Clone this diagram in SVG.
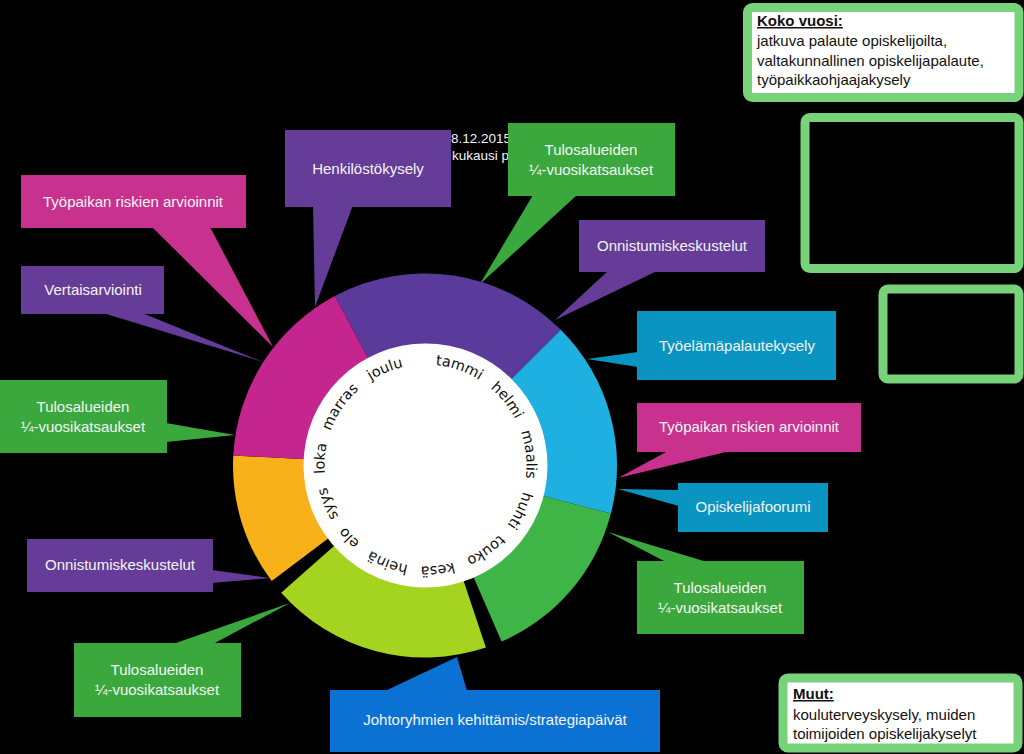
<svg xmlns="http://www.w3.org/2000/svg" xmlns:xlink="http://www.w3.org/1999/xlink" width="1024" height="754" viewBox="0 0 1024 754">
<defs>
<style>
.bg{fill:#000}
.lbl{font-family:"Liberation Sans",Arial,sans-serif;font-size:15px;fill:#f4f4f4;text-anchor:middle}
.note{font-family:"Liberation Sans",Arial,sans-serif;font-size:15px;fill:#111}
.hd{font-weight:bold;text-decoration:underline}
.mon{font-family:"DejaVu Sans",Verdana,sans-serif;font-size:14.5px;fill:#111;text-anchor:middle}
.pu{fill:#653c97}
.mg{fill:#c8318e}
.gr{fill:#3aa83c}
.tl{fill:#0a94c2}
.bl{fill:#0b72d4}
.frame{stroke:#78d27a;stroke-width:9}
</style>
<path id="mp" d="M425.5,364.5 A101,101 0 1 1 425.5,566.5 A101,101 0 1 1 425.5,364.5"/>
</defs>
<rect class="bg" x="0" y="0" width="1024" height="754"/>

<g id="background-text" font-family="Liberation Sans, Arial, sans-serif" font-size="13.5" fill="#f4f4f4">
<text x="451" y="143">8.12.2015</text>
<text x="452" y="160">kukausi p</text>
</g>

<g id="connectors">
<polygon class="pu" points="313,205 353,205 315,307"/>
<polygon class="gr" points="533,195 577,195 480,284"/>
<polygon class="pu" points="608,271 657,271 555,320"/>
<polygon class="tl" points="638,352 638,367 587,359"/>
<polygon class="mg" points="668,451 730,451 618,478"/>
<polygon class="tl" points="679,490 679,506 618,489"/>
<polygon class="gr" points="666,562 707,562 608,532"/>
<polygon class="bl" points="385,691 467,691 457,657"/>
<polygon class="gr" points="173,644 213,644 290,603"/>
<polygon class="pu" points="212,570 212,583 270,578"/>
<polygon class="gr" points="166,423 166,442 235,435"/>
<polygon class="pu" points="103,313 142,313 263,362"/>
<polygon class="mg" points="152,227 210,227 273,347"/>
</g>

<g id="ring">
<path fill="#5a3b9c" d="M425,465.5 L334.9,296.0 A192,192 0 0 1 560.8,329.7 Z"/>
<path fill="#1db0e0" d="M425,465.5 L560.8,329.7 A192,192 0 0 1 610.9,513.6 Z"/>
<path fill="#3fb548" d="M425,465.5 L610.9,513.6 A192,192 0 0 1 501.6,641.6 Z"/>
<path fill="#a5d420" d="M425,465.5 L485.9,647.6 A192,192 0 0 1 281.2,592.7 Z"/>
<path fill="#f9b11a" d="M425,465.5 L271.7,581.0 A192,192 0 0 1 233.3,455.5 Z"/>
<path fill="#c5258f" d="M425,465.5 L233.3,455.5 A192,192 0 0 1 334.9,296.0 Z"/>
<circle cx="425.5" cy="465.5" r="122" fill="#fff"/>
</g>

<g id="months">
<text class="mon"><textPath xlink:href="#mp" href="#mp" startOffset="33.5">tammi</textPath></text>
<text class="mon"><textPath xlink:href="#mp" href="#mp" startOffset="90.4">helmi</textPath></text>
<text class="mon"><textPath xlink:href="#mp" href="#mp" startOffset="147.5">maalis</textPath></text>
<text class="mon"><textPath xlink:href="#mp" href="#mp" startOffset="203.4">huhti</textPath></text>
<text class="mon"><textPath xlink:href="#mp" href="#mp" startOffset="254.5">touko</textPath></text>
<text class="mon"><textPath xlink:href="#mp" href="#mp" startOffset="305">kesä</textPath></text>
<text class="mon"><textPath xlink:href="#mp" href="#mp" startOffset="354.3">heinä</textPath></text>
<text class="mon"><textPath xlink:href="#mp" href="#mp" startOffset="398.7">elo</textPath></text>
<text class="mon"><textPath xlink:href="#mp" href="#mp" startOffset="437.5">syys</textPath></text>
<text class="mon"><textPath xlink:href="#mp" href="#mp" startOffset="482.1">loka</textPath></text>
<text class="mon"><textPath xlink:href="#mp" href="#mp" startOffset="535.7">marras</textPath></text>
<text class="mon"><textPath xlink:href="#mp" href="#mp" startOffset="593.5">joulu</textPath></text>
</g>

<g id="henkilostokysely">
<rect class="pu" x="285" y="130" width="166" height="77"/>
<text class="lbl" x="368" y="174">Henkilöstökysely</text>
</g>
<g id="tulos-top">
<rect class="gr" x="508" y="123" width="167" height="73"/>
<text class="lbl" x="591" y="155">Tulosalueiden</text>
<text class="lbl" x="591" y="175">¼-vuosikatsaukset</text>
</g>
<g id="onnistumis-right">
<rect class="pu" x="579" y="220" width="186" height="52"/>
<text class="lbl" x="672" y="251">Onnistumiskeskustelut</text>
</g>
<g id="tyoelama">
<rect class="tl" x="637" y="311" width="199" height="69"/>
<text class="lbl" x="737" y="351">Työelämäpalautekysely</text>
</g>
<g id="riskit-right">
<rect class="mg" x="637" y="403" width="224" height="49"/>
<text class="lbl" x="749" y="432">Työpaikan riskien arvioinnit</text>
</g>
<g id="opiskelijafoorumi">
<rect class="tl" x="678" y="483" width="150" height="49"/>
<text class="lbl" x="753" y="512">Opiskelijafoorumi</text>
</g>
<g id="tulos-right">
<rect class="gr" x="637" y="561" width="167" height="73"/>
<text class="lbl" x="720" y="593">Tulosalueiden</text>
<text class="lbl" x="720" y="613">¼-vuosikatsaukset</text>
</g>
<g id="johtoryhmat">
<rect class="bl" x="330" y="690" width="330" height="62"/>
<text class="lbl" x="495" y="725">Johtoryhmien kehittämis/strategiapäivät</text>
</g>
<g id="tulos-bottom-left">
<rect class="gr" x="74" y="643" width="167" height="74"/>
<text class="lbl" x="157" y="675">Tulosalueiden</text>
<text class="lbl" x="157" y="695">¼-vuosikatsaukset</text>
</g>
<g id="onnistumis-left">
<rect class="pu" x="27" y="539" width="186" height="53"/>
<text class="lbl" x="120" y="570">Onnistumiskeskustelut</text>
</g>
<g id="tulos-left">
<rect class="gr" x="0" y="380" width="167" height="73"/>
<text class="lbl" x="83" y="412">Tulosalueiden</text>
<text class="lbl" x="83" y="432">¼-vuosikatsaukset</text>
</g>
<g id="vertaisarviointi">
<rect class="pu" x="21" y="266" width="143" height="48"/>
<text class="lbl" x="93" y="295">Vertaisarviointi</text>
</g>
<g id="riskit-left">
<rect class="mg" x="21" y="175" width="225" height="53"/>
<text class="lbl" x="133" y="207">Työpaikan riskien arvioinnit</text>
</g>

<g id="koko-vuosi">
<rect class="frame" x="747.5" y="7.5" width="271.5" height="90" rx="5" fill="#fff"/>
<text class="note hd" x="757" y="26">Koko vuosi:</text>
<text class="note" x="757" y="46">jatkuva palaute opiskelijoilta,</text>
<text class="note" x="757" y="66">valtakunnallinen opiskelijapalaute,</text>
<text class="note" x="757" y="85">työpaikkaohjaajakysely</text>
</g>
<g id="empty-frame-1">
<rect class="frame" x="805" y="117.5" width="214" height="151" rx="5" fill="#000"/>
</g>
<g id="empty-frame-2">
<rect class="frame" x="883" y="289" width="136" height="90" rx="5" fill="#000"/>
</g>
<g id="muut">
<rect class="frame" x="783" y="678" width="235" height="70" rx="5" fill="#fff"/>
<text class="note hd" x="793" y="699">Muut:</text>
<text class="note" x="793" y="720">kouluterveyskysely,  muiden</text>
<text class="note" x="793" y="739">toimijoiden opiskelijakyselyt</text>
</g>
</svg>
